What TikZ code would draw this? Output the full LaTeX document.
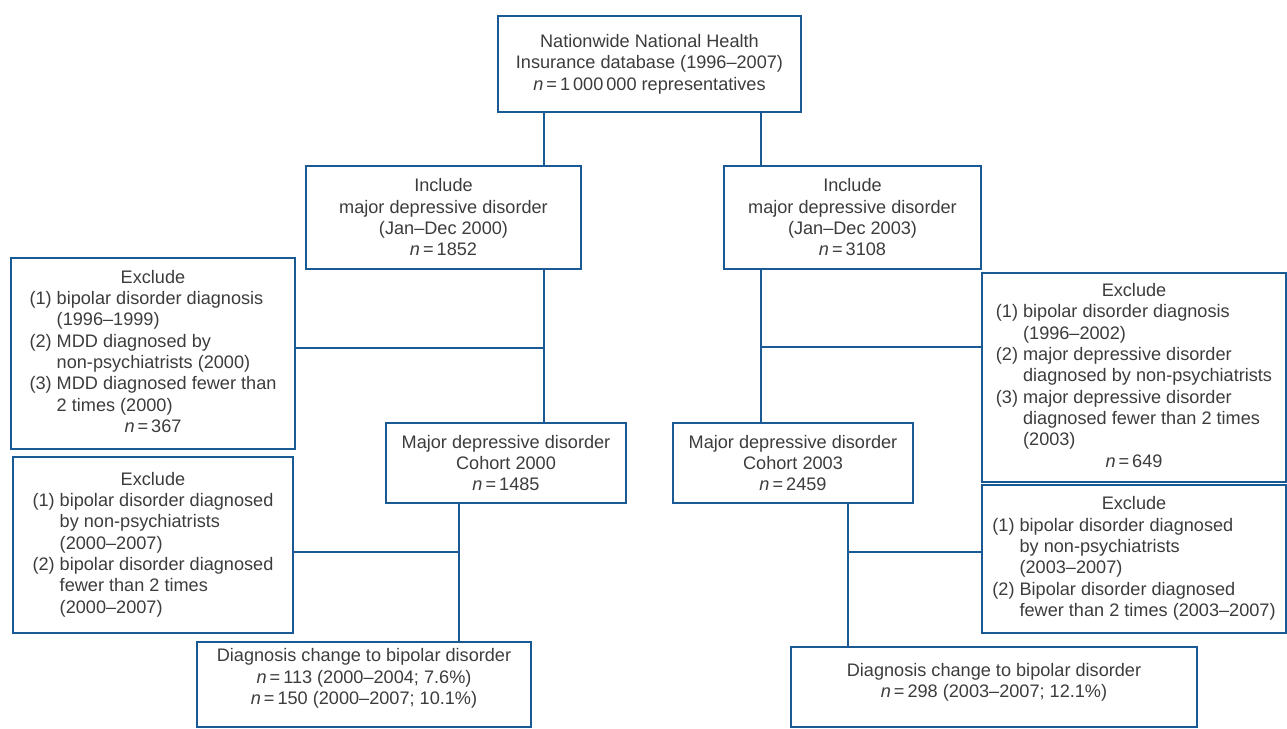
\documentclass[tikz,border=0pt]{standalone}
\usepackage{fontspec}
\setmainfont{Liberation Sans}
\usepackage{array}
\definecolor{lc}{RGB}{26,90,148}
\definecolor{tc}{RGB}{60,60,60}
\newdimen\pxu \pxu=0.75pt
\newcommand\hangin{\hphantom{(1)\ }}
\newcommand\nn{\textit{n}\,=\,}
\newcommand\ctr[1]{\multicolumn{1}{@{}c@{}}{#1}}
\tikzset{
  box/.style={draw=lc, line width=1.5pt, inner sep=0pt, text=tc, align=center,
    font=\fontsize{13.6}{16}\selectfont},
  txt/.style={inner sep=0pt, text=tc, align=center, font=\fontsize{13.6}{16}\selectfont},
  conn/.style={draw=lc, line width=1.5pt}
}
\begin{document}
\begin{tikzpicture}[x=0.75pt,y=-0.75pt]
\useasboundingbox (0,0) rectangle (1287,728);
% top
\node[box, minimum width=303\pxu, minimum height=96\pxu] (top) at (649.5,64)
  {Nationwide National Health\\Insurance database (1996–2007)\\\nn 1\,000\,000 representatives};
% include
\node[box, minimum width=275\pxu, minimum height=103\pxu] (incL) at (443.5,217.5)
  {Include\\major depressive disorder\\(Jan–Dec 2000)\\\nn 1852};
\node[box, minimum width=257\pxu, minimum height=103\pxu] (incR) at (852.5,217.5)
  {Include\\major depressive disorder\\(Jan–Dec 2003)\\\nn 3108};
% excludes left
\node[box, minimum width=284\pxu, minimum height=191\pxu] (exL1) at (153,353.5)
  {\begin{tabular}{@{}l@{}}\ctr{Exclude}\\(1) bipolar disorder diagnosis\\\hangin(1996–1999)\\(2) MDD diagnosed by\\\hangin non-psychiatrists (2000)\\(3) MDD diagnosed fewer than\\\hangin 2 times (2000)\\\ctr{\nn 367}\end{tabular}};
\node[box, minimum width=280\pxu, minimum height=176\pxu] (exL2) at (153,545)
  {\begin{tabular}{@{}l@{}}\ctr{Exclude}\\(1) bipolar disorder diagnosed\\\hangin by non-psychiatrists\\\hangin(2000–2007)\\(2) bipolar disorder diagnosed\\\hangin fewer than 2 times\\\hangin(2000–2007)\end{tabular}};
% cohorts
\node[box, minimum width=240\pxu, minimum height=80\pxu] (cohL) at (506,463)
  {Major depressive disorder\\Cohort 2000\\\nn 1485};
\node[box, minimum width=240\pxu, minimum height=80\pxu] (cohR) at (793,463)
  {Major depressive disorder\\Cohort 2003\\\nn 2459};
% excludes right
\node[box, minimum width=304\pxu, minimum height=209\pxu] (exR1) at (1134,377.5)
  {\begin{tabular}{@{}l@{}}\ctr{Exclude}\\(1) bipolar disorder diagnosis\\\hangin(1996–2002)\\(2) major depressive disorder\\\hangin diagnosed by non-psychiatrists\\(3) major depressive disorder\\\hangin diagnosed fewer than 2 times\\\hangin(2003)\\\ctr{\nn 649}\end{tabular}};
\node[box, minimum width=304\pxu, minimum height=148\pxu] (exR2) at (1134,559)
  {\begin{tabular}{@{}l@{}}\ctr{Exclude}\\(1) bipolar disorder diagnosed\\\hangin by non-psychiatrists\\\hangin(2003–2007)\\(2) Bipolar disorder diagnosed\\\hangin fewer than 2 times (2003–2007)\end{tabular}};
% bottom
\node[box, minimum width=334\pxu, minimum height=85\pxu] (botL) at (364,684.5) {};
\node[txt] (botLt) at (364,678.5)
  {Diagnosis change to bipolar disorder\\\nn 113 (2000–2004; 7.6\%)\\\nn 150 (2000–2007; 10.1\%)};
\node[box, minimum width=406\pxu, minimum height=80\pxu] (botR) at (994,687) {};
\node[txt] (botRt) at (994,682.5)
  {Diagnosis change to bipolar disorder\\\nn 298 (2003–2007; 12.1\%)};
% connector positions
\coordinate (xL) at (544,0);
\coordinate (xR) at (761,0);
\coordinate (xL2) at (459,0);
\coordinate (xR2) at (848,0);
\coordinate (jL1) at (544,348);
\coordinate (jR1) at (761,347);
\coordinate (jL2) at (459,552);
\coordinate (jR2) at (848,552);
% connectors
\draw[conn] (top.south -| xL) -- (incL.north -| xL);
\draw[conn] (top.south -| xR) -- (incR.north -| xR);
\draw[conn] (incL.south -| xL) -- (cohL.north -| xL);
\draw[conn] (incR.south -| xR) -- (cohR.north -| xR);
\draw[conn] (jL1) -- (jL1 -| exL1.east);
\draw[conn] (jR1) -- (jR1 -| exR1.west);
\draw[conn] (cohL.south -| xL2) -- (botL.north -| xL2);
\draw[conn] (cohR.south -| xR2) -- (botR.north -| xR2);
\draw[conn] (jL2) -- (jL2 -| exL2.east);
\draw[conn] (jR2) -- (jR2 -| exR2.west);
\end{tikzpicture}
\end{document}
